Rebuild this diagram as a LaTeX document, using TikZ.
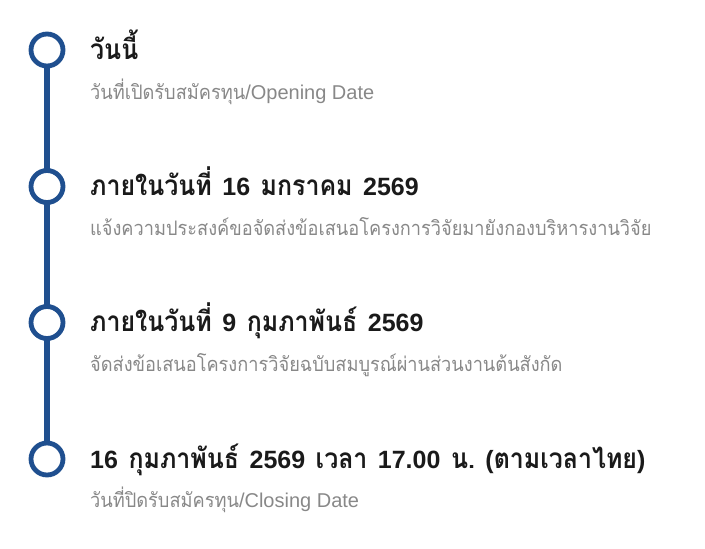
\documentclass[tikz,border=0pt]{standalone}
\usepackage{fontspec}
\setmainfont{Liberation Sans}
\newfontfamily\thaifont[Script=Thai]{Loma}
\newfontfamily\thaittl[Script=Thai,FakeStretch=0.89]{Loma}
\newfontfamily\thaisub[Script=Thai,FakeStretch=0.91]{Loma}
\definecolor{tlblue}{HTML}{1F4F8F}
\definecolor{titlecol}{HTML}{1A1A1A}
\definecolor{subcol}{HTML}{888888}
\newcommand{\tth}[1]{{\thaittl\fontsize{28}{30}\selectfont\bfseries #1}}
\newcommand{\sth}[1]{{\thaisub\fontsize{20}{23}\selectfont #1}}
\newcommand{\gap}{\hspace{10.5pt}}
\tikzset{
  dot/.style={circle, draw=tlblue, line width=4.8pt, fill=white, minimum size=32pt, inner sep=0pt},
  rail/.style={draw=tlblue, line width=6pt},
  ttl/.style={anchor=base west, inner sep=0pt, text=titlecol, font=\fontsize{25}{28}\selectfont\bfseries},
  sub/.style={anchor=base west, inner sep=0pt, text=subcol, font=\fontsize{20}{23}\selectfont},
}
\begin{document}
\begin{tikzpicture}[x=1pt,y=-1pt]
\useasboundingbox (0,0) rectangle (705,549);
\coordinate (c1) at (47,50);
\coordinate (c2) at (47,186.5);
\coordinate (c3) at (47,322.5);
\coordinate (c4) at (47,459);
\draw[rail] (c1) -- (c4);
\node[dot] (d1) at (c1) {};
\node[dot] (d2) at (c2) {};
\node[dot] (d3) at (c3) {};
\node[dot] (d4) at (c4) {};
\node[ttl] (t1) at (90,59.3) {\tth{วันนี้}};
\node[sub] (s1) at (90,99.5) {\sth{วันที่เปิดรับสมัครทุน}/Opening Date};
\node[ttl] (t2) at (90,195.5) {\tth{ภายในวันที่}\gap 16\gap\tth{มกราคม}\gap 2569};
\node[sub] (s2) at (90,235.5) {\sth{แจ้งความประสงค์ขอจัดส่งข้อเสนอโครงการวิจัยมายังกองบริหารงานวิจัย}};
\node[ttl] (t3) at (90,331.5) {\tth{ภายในวันที่}\gap 9\gap\tth{กุมภาพันธ์}\gap 2569};
\node[sub] (s3) at (90,371.5) {\sth{จัดส่งข้อเสนอโครงการวิจัยฉบับสมบูรณ์ผ่านส่วนงานต้นสังกัด}};
\node[ttl] (t4) at (90,468) {16\gap\tth{กุมภาพันธ์}\gap 2569\gap\tth{เวลา}\gap 17.00\gap\tth{น.}\gap(\tth{ตามเวลาไทย})};
\node[sub] (s4) at (90,507.3) {\sth{วันที่ปิดรับสมัครทุน}/Closing Date};
\end{tikzpicture}
\end{document}
